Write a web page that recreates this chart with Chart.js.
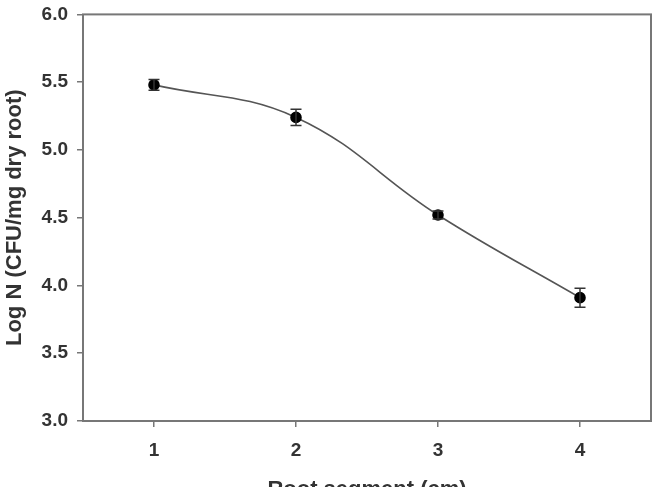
<!DOCTYPE html>
<html>
<head>
<meta charset="utf-8">
<script src="https://cdn.jsdelivr.net/npm/chart.js@4/dist/chart.umd.min.js"></script>
<style>
  html, body { margin: 0; padding: 0; background: #fff; overflow: hidden; }
  #rootChart { display: block; margin-top: -6px; }
</style>
</head>
<body>
<canvas id="rootChart" width="659" height="510"></canvas>
<script>
// values
const segments = ['1', '2', '3', '4'];
const logN = [5.48, 5.24, 4.52, 3.91];
const errors = [0.04, 0.06, 0.03, 0.07];
const yTicks = [3.0, 3.5, 4.0, 4.5, 5.0, 5.5, 6.0];

const axisColor = '#777';
const textColor = '#333';

// full frame around plot area
const framePlugin = {
    id: 'frame',
    afterDraw(chart) {
        const a = chart.chartArea;
        const ctx = chart.ctx;
        ctx.save();
        ctx.strokeStyle = axisColor;
        ctx.lineWidth = 2;
        ctx.strokeRect(a.left, a.top, a.right - a.left, a.bottom - a.top);
        ctx.restore();
    }
};

// vertical error bars with caps
const errorBarPlugin = {
    id: 'errorBars',
    afterDatasetsDraw(chart) {
        const ctx = chart.ctx;
        const y = chart.scales.y;
        const meta = chart.getDatasetMeta(0);
        ctx.save();
        ctx.strokeStyle = '#333';
        ctx.lineWidth = 1.5;
        meta.data.forEach(function (pt, i) {
            const top = y.getPixelForValue(logN[i] + errors[i]);
            const bot = y.getPixelForValue(logN[i] - errors[i]);
            ctx.beginPath();
            ctx.moveTo(pt.x, top); ctx.lineTo(pt.x, bot);
            ctx.moveTo(pt.x - 5.5, top); ctx.lineTo(pt.x + 5.5, top);
            ctx.moveTo(pt.x - 5.5, bot); ctx.lineTo(pt.x + 5.5, bot);
            ctx.stroke();
        });
        ctx.restore();
    }
};

const ctx = document.getElementById('rootChart').getContext('2d');
new Chart(ctx, {
    type: 'line',
    data: {
        labels: segments,
        datasets: [{
            data: logN,
            borderColor: '#555',
            borderWidth: 1.6,
            tension: 0.4,
            pointRadius: 5,
            pointBackgroundColor: '#000',
            pointBorderColor: '#000',
            fill: false
        }]
    },
    options: {
        responsive: false,
        animation: false,
        layout: { padding: { top: 6, right: 8, left: 0, bottom: 0 } },
        plugins: {
            legend: { display: false },
            tooltip: { enabled: false }
        },
        scales: {
            x: {
                type: 'category',
                offset: true,
                border: { display: false },
                grid: { offset: false, drawOnChartArea: false, drawTicks: true, tickLength: 6, color: axisColor, lineWidth: 1.5 },
                ticks: { color: textColor, padding: 12, font: { family: 'Liberation Sans', size: 19, weight: 'bold' } },
                title: {
                    display: true,
                    text: 'Root segment (cm)',
                    color: textColor,
                    padding: { top: 0, bottom: 1 },
                    font: { family: 'Liberation Sans', size: 22, weight: 'bold' }
                },
                afterFit(scale) { scale.height = 83; }
            },
            y: {
                min: 3.0,
                max: 6.0,
                border: { display: false },
                grid: { drawOnChartArea: false, drawTicks: true, tickLength: 6, color: axisColor, lineWidth: 1.5 },
                afterBuildTicks(scale) { scale.ticks = yTicks.map(v => ({ value: v })); },
                ticks: {
                    color: textColor,
                    padding: 9,
                    font: { family: 'Liberation Sans', size: 19, weight: 'bold' },
                    callback: v => v.toFixed(1)
                },
                title: {
                    display: true,
                    text: 'Log N (CFU/mg dry root)',
                    color: textColor,
                    padding: { top: 2, bottom: 6 },
                    font: { family: 'Liberation Sans', size: 22, weight: 'bold' }
                },
                afterFit(scale) { scale.width = 83; }
            }
        }
    },
    plugins: [framePlugin, errorBarPlugin]
});
</script>
</body>
</html>
